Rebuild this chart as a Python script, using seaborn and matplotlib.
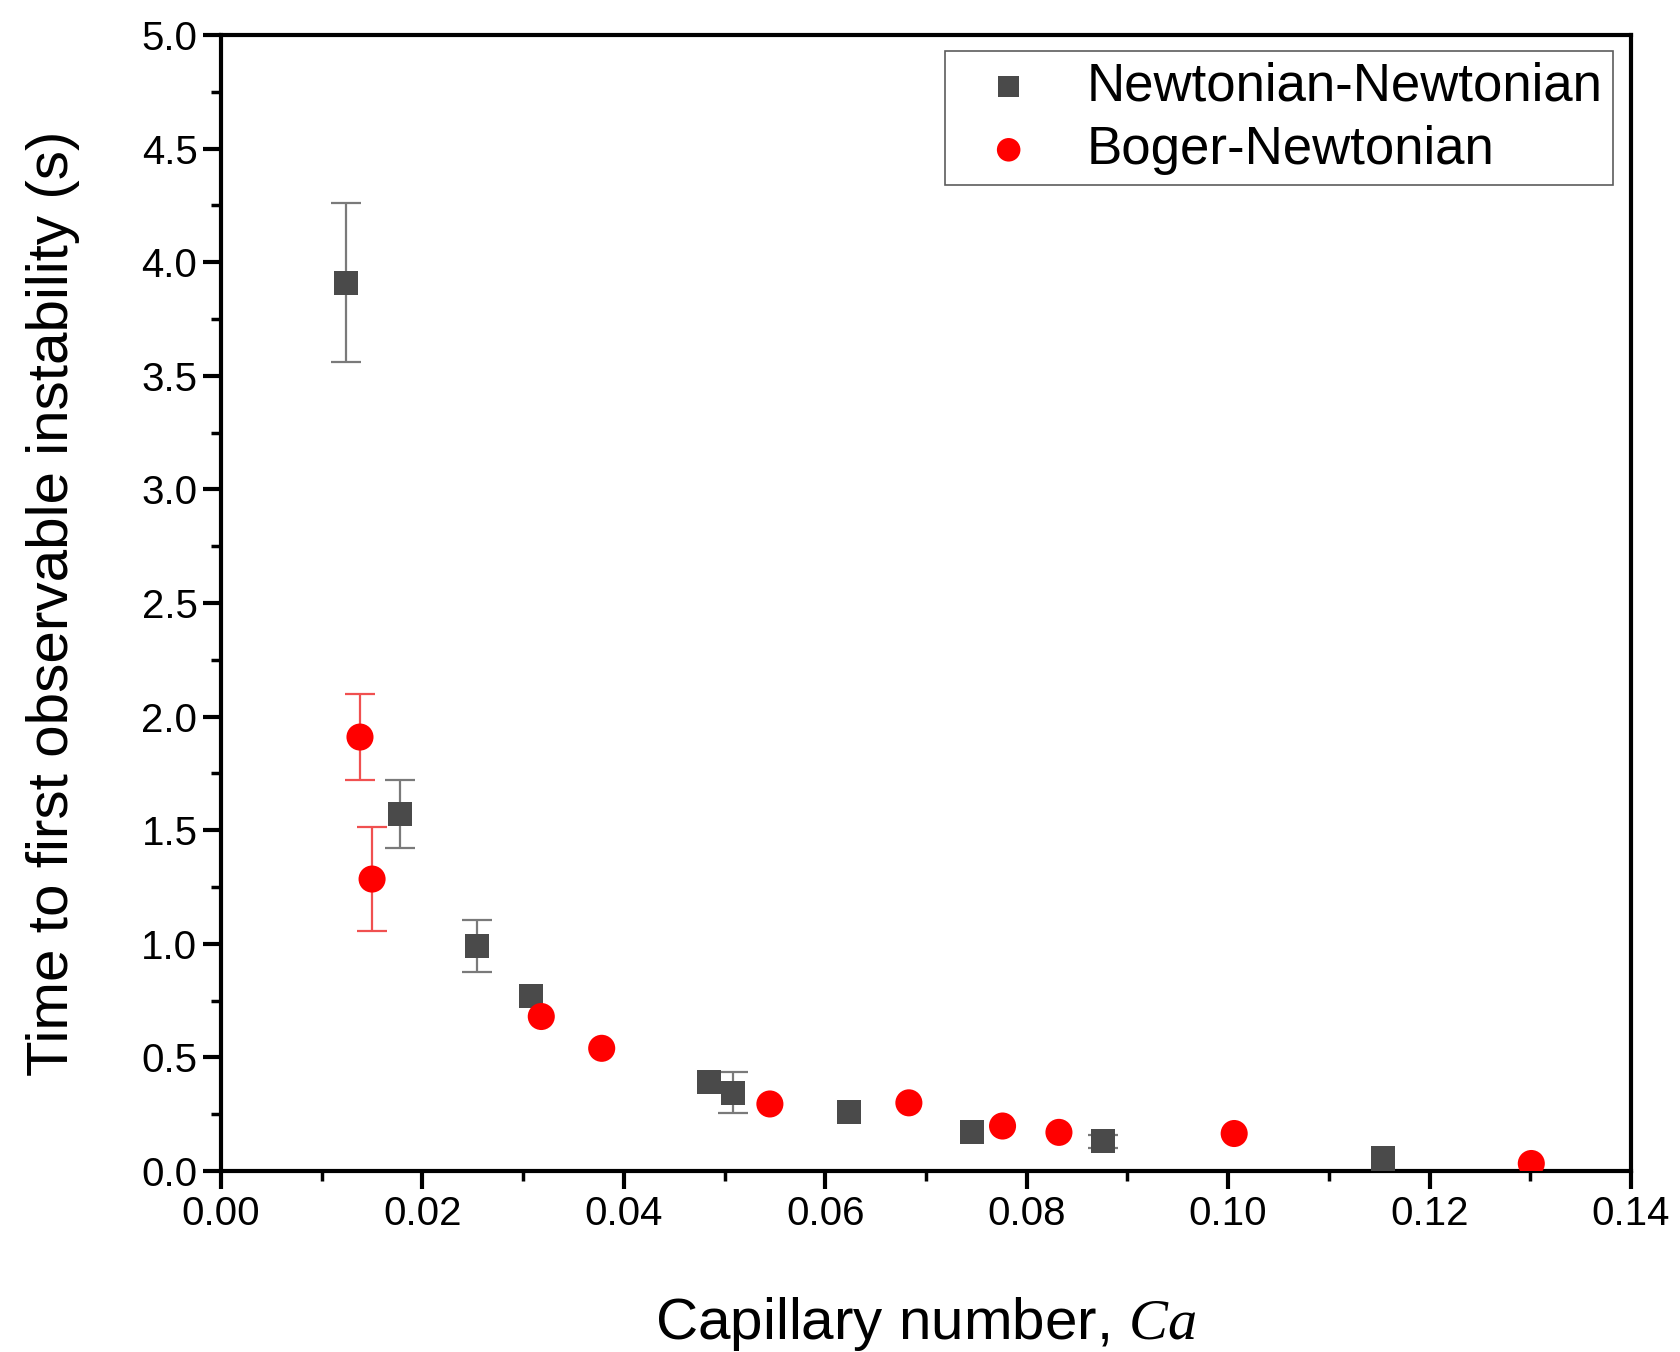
import numpy as np
import pandas as pd
import matplotlib
matplotlib.use("Agg")
import matplotlib.pyplot as plt
import seaborn as sns
from matplotlib.ticker import MultipleLocator

# ---- data ----
nn_ca = [0.0124, 0.0178, 0.0254, 0.0308, 0.0485, 0.0508, 0.0624, 0.0746, 0.0876, 0.1154]
nn_t = [3.91, 1.57, 0.99, 0.77, 0.39, 0.345, 0.26, 0.17, 0.13, 0.055]
nn_err = [0.35, 0.15, 0.115, 0.0, 0.0, 0.09, 0.0, 0.0, 0.03, 0.0]

bn_ca = [0.0138, 0.0150, 0.0318, 0.0378, 0.0545, 0.0683, 0.0776, 0.0832, 0.1006, 0.1301]
bn_t = [1.91, 1.285, 0.68, 0.54, 0.295, 0.30, 0.198, 0.17, 0.165, 0.033]
bn_err = [0.19, 0.23, 0.0, 0.0, 0.0, 0.0, 0.0, 0.0, 0.0, 0.0]

series_names = ["Newtonian-Newtonian", "Boger-Newtonian"]
x_ticks = [0.00, 0.02, 0.04, 0.06, 0.08, 0.10, 0.12, 0.14]
y_ticks = [0.0, 0.5, 1.0, 1.5, 2.0, 2.5, 3.0, 3.5, 4.0, 4.5, 5.0]

sns.set_style("ticks")
plt.rcParams["font.family"] = ["Liberation Sans", "DejaVu Sans"]
plt.rcParams["mathtext.fontset"] = "custom"
plt.rcParams["mathtext.it"] = "Liberation Serif:italic"
plt.rcParams["text.color"] = "black"
plt.rcParams["axes.labelcolor"] = "black"

fig = plt.figure(figsize=(16.81, 13.52), dpi=100)
ax = fig.add_axes([221 / 1681, 1 - 1171 / 1352, 1410 / 1681, 1136 / 1352])

gray = "#4a4a4a"
red = "#ff0000"

df_nn = pd.DataFrame({"Ca": nn_ca, "t": nn_t, "err": nn_err})
df_bn = pd.DataFrame({"Ca": bn_ca, "t": bn_t, "err": bn_err})

# error bars
m = df_nn["err"] > 0
ax.errorbar(df_nn["Ca"][m], df_nn["t"][m], yerr=df_nn["err"][m], fmt="none",
            ecolor="#7a7a7a", elinewidth=1.6, capsize=11, capthick=1.6, zorder=2)
m = df_bn["err"] > 0
ax.errorbar(df_bn["Ca"][m], df_bn["t"][m], yerr=df_bn["err"][m], fmt="none",
            ecolor="#f05050", elinewidth=1.6, capsize=11, capthick=1.6, zorder=2)

sns.scatterplot(data=df_nn, x="Ca", y="t", marker="s", s=300, color=gray,
                edgecolor="none", label=series_names[0], ax=ax, zorder=3)
sns.scatterplot(data=df_bn, x="Ca", y="t", marker="o", s=380, color=red,
                edgecolor="none", label=series_names[1], ax=ax, zorder=3)

ax.set_xlim(0, 0.14)
ax.set_ylim(0, 5.0)
ax.set_xticks(x_ticks)
ax.set_yticks(y_ticks)
ax.set_xticklabels([f"{v:.2f}" for v in x_ticks])
ax.set_yticklabels([f"{v:.1f}" for v in y_ticks])
ax.xaxis.set_minor_locator(MultipleLocator(0.01))
ax.yaxis.set_minor_locator(MultipleLocator(0.25))

ax.tick_params(axis="both", which="major", direction="out", length=13, width=3,
               labelsize=29, pad=4, colors="black")
ax.tick_params(axis="both", which="minor", direction="out", length=7, width=2.5,
               colors="black")
ax.tick_params(top=False, right=False, which="both")

for sp in ax.spines.values():
    sp.set_visible(True)
    sp.set_linewidth(3)
    sp.set_color("black")

ax.set_xlabel("Capillary number, $Ca$", fontsize=42, color="black")
ax.set_ylabel("Time to first observable instability (s)", fontsize=42, color="black")
ax.xaxis.set_label_coords(0.5, -0.109)
ax.yaxis.set_label_coords(-0.100, 0.5)

leg = ax.legend(loc="upper right", bbox_to_anchor=(0.987, 0.986), borderaxespad=0,
                fontsize=38, frameon=True, fancybox=False, edgecolor="#333333",
                markerscale=0.87, handlelength=2.0, handletextpad=0.47,
                borderpad=0.2, labelspacing=0.25)
leg.get_frame().set_linewidth(1.2)
for t in leg.get_texts():
    t.set_color("black")

fig.savefig("out.png", dpi=100)
